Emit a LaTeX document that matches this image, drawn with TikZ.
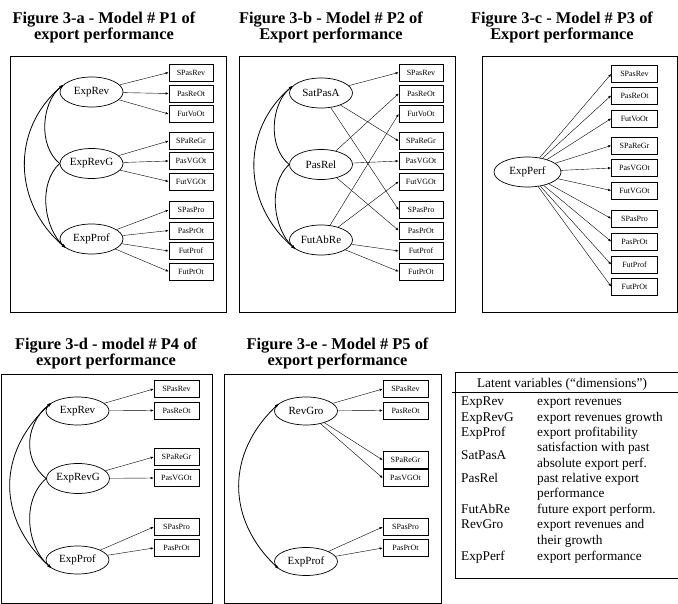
\documentclass[tikz,border=0pt]{standalone}
\usepackage{fontspec}
\setmainfont{Liberation Serif}
\usetikzlibrary{shapes.geometric, arrows.meta}

\begin{document}
\begin{tikzpicture}[x=1pt, y=-1pt, >={Latex[length=3pt, width=2.4pt]},
    latent/.style={draw, ellipse, line width=0.7pt, minimum width=63pt, minimum height=30pt, inner sep=0pt, font=\fontsize{11}{13}\selectfont},
    indic/.style={draw, rectangle, line width=0.7pt, minimum width=44pt, minimum height=17pt, inner sep=0pt, font=\fontsize{8}{10}\selectfont},
    panel/.style={draw, line width=1pt},
    figtitle/.style={align=center, anchor=base, inner sep=0pt, font=\fontsize{16.4}{16}\selectfont\bfseries},
    load/.style={->, line width=0.4pt},
    cov/.style={line width=0.8pt, >={Latex[length=4.5pt, width=3pt]}},
    legtext/.style={anchor=base west, align=left, inner sep=0pt, font=\fontsize{13.3}{15.5}\selectfont}]
    \useasboundingbox (0,0) rectangle (678,604);

    % Figure 3-a
    \node (a_title) [figtitle] at (104,40) {Figure 3-a - Model \# P1 of\\export performance};
    \draw[panel] (10,57) rectangle (226,313);
    \node (a_exprev) [latent] at (91.5,92) {ExpRev};
    \node (a_exprevg) [latent] at (91.5,163.5) {ExpRevG};
    \node (a_expprof) [latent] at (91.5,239) {ExpProf};
    \node (a_spasrev) [indic] at (191,72.5) {SPasRev};
    \node (a_pasreot) [indic] at (191,93.5) {PasReOt};
    \node (a_futvoot) [indic] at (191,114) {FutVoOt};
    \node (a_spaergr) [indic] at (191,141) {SPaReGr};
    \node (a_pasvgot) [indic] at (191,161) {PasVGOt};
    \node (a_futvgot) [indic] at (191,181.5) {FutVGOt};
    \node (a_spaspro) [indic] at (191,210) {SPasPro};
    \node (a_pasprot) [indic] at (191,230.5) {PasPrOt};
    \node (a_futprof) [indic] at (191,251) {FutProf};
    \node (a_futprot) [indic] at (191,271.5) {FutPrOt};

    \draw[load] (a_exprev) -- (a_spasrev.west);
    \draw[load] (a_exprev) -- (a_pasreot.west);
    \draw[load] (a_exprev) -- (a_futvoot.west);
    \draw[load] (a_exprevg) -- (a_spaergr.west);
    \draw[load] (a_exprevg) -- (a_pasvgot.west);
    \draw[load] (a_exprevg) -- (a_futvgot.west);
    \draw[load] (a_expprof) -- (a_spaspro.west);
    \draw[load] (a_expprof) -- (a_pasprot.west);
    \draw[load] (a_expprof) -- (a_futprof.west);
    \draw[load] (a_expprof) -- (a_futprot.west);

    \draw[cov, <-] (a_exprev.165) .. controls +(-22,18) and +(-22,-18) .. (a_exprevg.west);
    \draw[cov, ->] (a_exprevg.west) .. controls +(-22,20) and +(-22,-20) .. (a_expprof.200);
    \draw[cov, <->] (a_exprev.165) .. controls +(-53,45) and +(-53,-45) .. (a_expprof.200);

    % Figure 3-b
    \node (b_title) [figtitle] at (331,40) {Figure 3-b - Model \# P2 of\\Export performance};
    \draw[panel] (239,57) rectangle (455,313);
    \node (b_satpasa) [latent] at (321,93) {SatPasA};
    \node (b_pasrel) [latent] at (321,164.5) {PasRel};
    \node (b_futabre) [latent] at (321,240) {FutAbRe};
    \node (b_spasrev) [indic] at (421,72.5) {SPasRev};
    \node (b_pasreot) [indic] at (421,93.5) {PasReOt};
    \node (b_futvoot) [indic] at (421,114) {FutVoOt};
    \node (b_spaergr) [indic] at (421,141) {SPaReGr};
    \node (b_pasvgot) [indic] at (421,161) {PasVGOt};
    \node (b_futvgot) [indic] at (421,181.5) {FutVGOt};
    \node (b_spaspro) [indic] at (421,210) {SPasPro};
    \node (b_pasprot) [indic] at (421,230.5) {PasPrOt};
    \node (b_futprof) [indic] at (421,251) {FutProf};
    \node (b_futprot) [indic] at (421,271.5) {FutPrOt};

    \draw[load] (b_satpasa) -- (b_spasrev.west);
    \draw[load] (b_satpasa) -- (b_spaergr.west);
    \draw[load] (b_satpasa) -- (b_spaspro.west);
    \draw[load] (b_pasrel) -- (b_pasreot.west);
    \draw[load] (b_pasrel) -- (b_pasvgot.west);
    \draw[load] (b_pasrel) -- (b_pasprot.west);
    \draw[load] (b_futabre) -- (b_futvoot.west);
    \draw[load] (b_futabre) -- (b_futvgot.west);
    \draw[load] (b_futabre) -- (b_futprof.west);
    \draw[load] (b_futabre) -- (b_futprot.west);

    \draw[cov, <-] (b_satpasa.165) .. controls +(-22,18) and +(-22,-18) .. (b_pasrel.west);
    \draw[cov, ->] (b_pasrel.west) .. controls +(-22,20) and +(-22,-20) .. (b_futabre.200);
    \draw[cov, <->] (b_satpasa.165) .. controls +(-53,45) and +(-53,-45) .. (b_futabre.200);

    % Figure 3-c
    \node (c_title) [figtitle] at (562,40) {Figure 3-c - Model \# P3 of\\Export performance};
    \draw[panel] (482,57) rectangle (677,313);
    \node (c_expperf) [latent, minimum width=67pt] at (527.5,172) {ExpPerf};
    \node (c_spasrev) [indic, minimum width=46pt] at (634.5,74) {SPasRev};
    \node (c_pasreot) [indic, minimum width=46pt] at (634.5,95.5) {PasReOt};
    \node (c_futvoot) [indic, minimum width=46pt] at (634.5,118.5) {FutVoOt};
    \node (c_spaergr) [indic, minimum width=46pt] at (634.5,145.5) {SPaReGr};
    \node (c_pasvgot) [indic, minimum width=46pt] at (634.5,168) {PasVGOt};
    \node (c_futvgot) [indic, minimum width=46pt] at (634.5,190.5) {FutVGOt};
    \node (c_spaspro) [indic, minimum width=46pt] at (634.5,218.5) {SPasPro};
    \node (c_pasprot) [indic, minimum width=46pt] at (634.5,241.5) {PasPrOt};
    \node (c_futprof) [indic, minimum width=46pt] at (634.5,264.5) {FutProf};
    \node (c_futprot) [indic, minimum width=46pt] at (634.5,286.5) {FutPrOt};

    \draw[load] (c_expperf) -- (c_spasrev.west);
    \draw[load] (c_expperf) -- (c_pasreot.west);
    \draw[load] (c_expperf) -- (c_futvoot.west);
    \draw[load] (c_expperf) -- (c_spaergr.west);
    \draw[load] (c_expperf) -- (c_pasvgot.west);
    \draw[load] (c_expperf) -- (c_futvgot.west);
    \draw[load] (c_expperf) -- (c_spaspro.west);
    \draw[load] (c_expperf) -- (c_pasprot.west);
    \draw[load] (c_expperf) -- (c_futprof.west);
    \draw[load] (c_expperf) -- (c_futprot.west);

    % Figure 3-d
    \node (d_title) [figtitle] at (106,365) {Figure 3-d - model \# P4 of\\export performance};
    \draw[panel] (1,374) rectangle (212,603);
    \node (d_exprev) [latent, minimum height=28pt] at (77.5,411) {ExpRev};
    \node (d_exprevg) [latent, minimum height=30pt] at (78,478.5) {ExpRevG};
    \node (d_expprof) [latent, minimum height=28pt] at (77.5,560) {ExpProf};
    \node (d_spasrev) [indic, minimum width=45pt] at (176.5,389) {SPasRev};
    \node (d_pasreot) [indic, minimum width=45pt] at (176.5,410.5) {PasReOt};
    \node (d_spaergr) [indic, minimum width=45pt] at (176.5,457) {SPaReGr};
    \node (d_pasvgot) [indic, minimum width=45pt] at (176.5,478) {PasVGOt};
    \node (d_spaspro) [indic, minimum width=45pt] at (176.5,527) {SPasPro};
    \node (d_pasprot) [indic, minimum width=45pt] at (176.5,548) {PasPrOt};

    \draw[load] (d_exprev) -- (d_spasrev.west);
    \draw[load] (d_exprev) -- (d_pasreot.west);
    \draw[load] (d_exprevg) -- (d_spaergr.west);
    \draw[load] (d_exprevg) -- (d_pasvgot.west);
    \draw[load] (d_expprof) -- (d_spaspro.west);
    \draw[load] (d_expprof) -- (d_pasprot.west);

    \draw[cov, <-] (d_exprev.162) .. controls +(-25,20) and +(-25,-20) .. (d_exprevg.west);
    \draw[cov, ->] (d_exprevg.west) .. controls +(-25,22) and +(-25,-22) .. (d_expprof.198);
    \draw[cov, <->] (d_exprev.162) .. controls +(-55,50) and +(-55,-50) .. (d_expprof.198);

    % Figure 3-e
    \node (e_title) [figtitle] at (337.5,365) {Figure 3-e - Model \# P5 of\\export performance};
    \draw[panel] (224,374) rectangle (441,603);
    \node (e_revgro) [latent, minimum height=28pt] at (306,411) {RevGro};
    \node (e_expprof) [latent, minimum height=28pt] at (306,561.5) {ExpProf};
    \node (e_spasrev) [indic, minimum width=45pt] at (405.5,389) {SPasRev};
    \node (e_pasreot) [indic, minimum width=45pt] at (405.5,410.5) {PasReOt};
    \node (e_spaergr) [indic, minimum width=45pt] at (405.5,460) {SPaReGr};
    \node (e_pasvgot) [indic, minimum width=45pt] at (405.5,478) {PasVGOt};
    \node (e_spaspro) [indic, minimum width=45pt] at (405.5,527) {SPasPro};
    \node (e_pasprot) [indic, minimum width=45pt] at (405.5,548) {PasPrOt};

    \draw[load] (e_revgro) -- (e_spasrev.west);
    \draw[load] (e_revgro) -- (e_pasreot.west);
    \draw[load] (e_revgro) -- (e_spaergr.west);
    \draw[load] (e_revgro) -- (e_pasvgot.west);
    \draw[load] (e_expprof) -- (e_spaspro.west);
    \draw[load] (e_expprof) -- (e_pasprot.west);

    \draw[cov, <->] (e_revgro.164) .. controls +(-53,50) and +(-53,-50) .. (e_expprof.196);

    % legend
    \draw[panel] (678,372) -| (455,578) -- (678,578);
    \draw[line width=0.7pt] (452,392) -- (678,392);
    \node (leg_head) [legtext, anchor=base] at (562,388) {Latent variables (“dimensions”)};
    \node (leg_exprev) [legtext] at (461,405.5) {ExpRev};
    \node (leg_exprev_txt) [legtext] at (537,405.5) {export revenues};
    \node (leg_exprevg) [legtext] at (461,421) {ExpRevG};
    \node (leg_exprevg_txt) [legtext] at (537,421) {export revenues growth};
    \node (leg_expprof) [legtext] at (461,436.5) {ExpProf};
    \node (leg_expprof_txt) [legtext] at (537,436.5) {export profitability};
    \node (leg_satpasa) [legtext] at (461,459) {SatPasA};
    \node (leg_satpasa_txt) [legtext] at (537,467) {satisfaction with past\\absolute export perf.};
    \node (leg_pasrel) [legtext] at (461,482) {PasRel};
    \node (leg_pasrel_txt) [legtext] at (537,497.5) {past relative export\\performance};
    \node (leg_futabre) [legtext] at (461,513) {FutAbRe};
    \node (leg_futabre_txt) [legtext] at (537,513) {future export perform.};
    \node (leg_revgro) [legtext] at (461,528.5) {RevGro};
    \node (leg_revgro_txt) [legtext] at (537,544) {export revenues and\\their growth};
    \node (leg_expperf) [legtext] at (461,560) {ExpPerf};
    \node (leg_expperf_txt) [legtext] at (537,560) {export performance};
\end{tikzpicture}
\end{document}
